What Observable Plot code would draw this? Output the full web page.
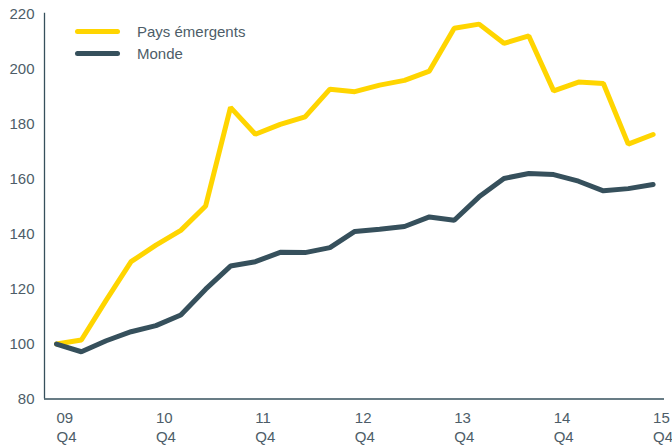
<!DOCTYPE html>
<html>
<head>
<meta charset="utf-8">
<script src="https://cdn.jsdelivr.net/npm/d3@7"></script>
<script src="https://cdn.jsdelivr.net/npm/@observablehq/plot@0.6"></script>
<style>
  body { margin: 0; background: #fff; }
  #wrap { position: relative; width: 672px; height: 446px; font-family: "Liberation Sans", Arial, sans-serif; }
  .leg { position: absolute; left: 75px; display: flex; align-items: center; font-size: 15px; color: #4d5d68; }
  .leg span.sw { display: inline-block; width: 45px; height: 5px; border-radius: 3px; margin-right: 17px; }
</style>
</head>
<body>
<div id="wrap"></div>
<script>
const quarters = ["09 Q4","10 Q1","10 Q2","10 Q3","10 Q4","11 Q1","11 Q2","11 Q3","11 Q4","12 Q1","12 Q2","12 Q3","12 Q4","13 Q1","13 Q2","13 Q3","13 Q4","14 Q1","14 Q2","14 Q3","14 Q4","15 Q1","15 Q2","15 Q3","15 Q4"];
const emergents = [100, 101.5, 116, 130, 136, 141.4, 150.3, 186.2, 176.4, 180, 182.7, 192.8, 191.9, 194.3, 196, 199.4, 215, 216.5, 209.5, 212.2, 192.2, 195.4, 194.9, 172.8, 176.3];
const monde = [100, 97.2, 101.2, 104.5, 106.7, 110.6, 120, 128.4, 130, 133.4, 133.3, 135.1, 141, 141.8, 142.8, 146.3, 145.1, 153.6, 160.3, 162.1, 161.7, 159.3, 155.8, 156.6, 158.1];
const tickLabels = ["09\nQ4","10\nQ4","11\nQ4","12\nQ4","13\nQ4","14\nQ4","15\nQ4"];
const yTicks = [80, 100, 120, 140, 160, 180, 200, 220];
const seriesNames = ["Pays émergents", "Monde"];
const colors = ["#ffd500", "#36505c"];

const rows = [];
quarters.forEach((q, i) => {
  rows.push({i, q, v: emergents[i], s: seriesNames[0]});
});
quarters.forEach((q, i) => {
  rows.push({i, q, v: monde[i], s: seriesNames[1]});
});
const xTickIdx = tickLabels.map((_, k) => k * 4);

const textColor = "#4d5d68";
const axisColor = "#36505c";

const chart = Plot.plot({
  width: 672,
  height: 446,
  marginLeft: 44,
  marginRight: 8,
  marginTop: 14,
  marginBottom: 47.5,
  insetLeft: 12,
  insetRight: 11.4,
  style: {fontFamily: '"Liberation Sans", Arial, sans-serif', fontSize: "15px", color: textColor, background: "#fff", overflow: "visible"},
  x: {domain: [0, quarters.length - 1], type: "linear"},
  y: {domain: [80, 220]},
  color: {domain: seriesNames, range: colors},
  marks: [
    Plot.ruleY([80], {stroke: axisColor, strokeWidth: 1.3}),
    Plot.ruleX([0], {dx: -12, y1: 80, y2: 220.5, stroke: axisColor, strokeWidth: 1.3}),
    Plot.axisY({ticks: yTicks, tickSize: 0, tickPadding: 10, label: null, fill: textColor}),
    Plot.axisX({ticks: xTickIdx, tickFormat: (d) => tickLabels[d / 4], tickSize: 0, tickPadding: 10, textAnchor: "start", lineHeight: 1.27, label: null, fill: textColor}),
    Plot.line(rows, {x: "i", y: "v", z: "s", stroke: "s", strokeWidth: 5, strokeLinejoin: "miter", strokeLinecap: "round"})
  ]
});
const wrap = document.getElementById("wrap");
wrap.appendChild(chart);
seriesNames.forEach((n, k) => {
  const d = document.createElement("div");
  d.className = "leg";
  d.style.top = (k === 0 ? 23 : 45) + "px";
  d.innerHTML = `<span class="sw" style="background:${colors[k]}"></span><span>${n}</span>`;
  wrap.appendChild(d);
});
</script>
</body>
</html>
